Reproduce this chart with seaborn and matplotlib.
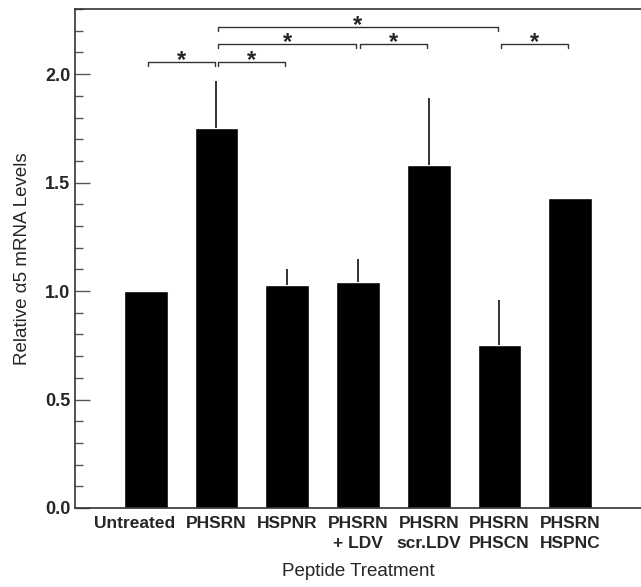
import matplotlib
matplotlib.use('Agg')
import matplotlib.pyplot as plt
from matplotlib.ticker import MultipleLocator, FormatStrFormatter
from matplotlib.transforms import ScaledTranslation
import seaborn as sns
import pandas as pd

# Values
treatments = ['Untreated', 'PHSRN', 'HSPNR', 'PHSRN\n+ LDV', 'PHSRN\nscr.LDV',
              'PHSRN\nPHSCN', 'PHSRN\nHSPNC']
mrna_levels = [1.00, 1.75, 1.03, 1.04, 1.58, 0.75, 1.43]
upper_err = [0.00, 0.22, 0.07, 0.11, 0.31, 0.21, 0.00]

# Significance brackets (bar index pairs) and their heights
sig_pairs = [(0, 1), (1, 2), (1, 3), (3, 4), (1, 5), (5, 6)]
sig_levels = [2.055, 2.055, 2.138, 2.138, 2.216, 2.138]

sns.set_style('ticks')
plt.rcParams['font.family'] = ['Liberation Sans', 'DejaVu Sans']

df = pd.DataFrame({'treatment': treatments, 'level': mrna_levels})

fig = plt.figure(figsize=(6.41, 5.87), dpi=100)
ax = fig.add_axes([0.117, 0.1346, 0.883, 0.850])

sns.barplot(data=df, x='treatment', y='level', color='black', width=0.62,
            saturation=1, ax=ax)

# upper-only error bars
ax.errorbar(range(len(treatments)), mrna_levels,
            yerr=[[0] * len(upper_err), upper_err],
            fmt='none', ecolor='#222222', elinewidth=1.3, capsize=0)

# significance brackets
gap = 0.025
drop = 0.018
for (a, b), lev in zip(sig_pairs, sig_levels):
    x1, x2 = a + gap, b - gap
    ax.plot([x1, x1, x2, x2], [lev - drop, lev, lev, lev - drop],
            color='#333333', lw=1.0, clip_on=False)
    ax.text((a + b) / 2, lev + 0.006, '*', ha='center', va='center',
            fontsize=17, fontweight='bold')

ax.set_xlim(-1, 7)
ax.set_ylim(0, 2.3)
ax.yaxis.set_major_locator(MultipleLocator(0.5))
ax.yaxis.set_minor_locator(MultipleLocator(0.1))
ax.yaxis.set_major_formatter(FormatStrFormatter('%.1f'))
ax.tick_params(axis='y', which='major', direction='in', length=11, width=1,
               color='#555555', labelsize=13)
ax.tick_params(axis='y', which='minor', direction='in', length=6, width=1,
               color='#555555')
ax.tick_params(axis='x', length=0, labelsize=12.5, pad=6)
for lbl in ax.get_xticklabels() + ax.get_yticklabels():
    lbl.set_fontweight('bold')
for lbl in ax.get_xticklabels():
    lbl.set_linespacing(1.35)
# the first label sits a little left of its bar in the original
first = ax.get_xticklabels()[0]
first.set_transform(first.get_transform() + ScaledTranslation(-8 / 72, 0, fig.dpi_scale_trans))

ax.set_xlabel('Peptide Treatment', fontsize=13.5, labelpad=9)
ax.set_ylabel('Relative α5 mRNA Levels', fontsize=13.5, labelpad=10)

ax.spines['right'].set_visible(False)
for s in ['top', 'left', 'bottom']:
    ax.spines[s].set_linewidth(1.2)
    ax.spines[s].set_color('#333333')

plt.savefig('out.png', dpi=100)
